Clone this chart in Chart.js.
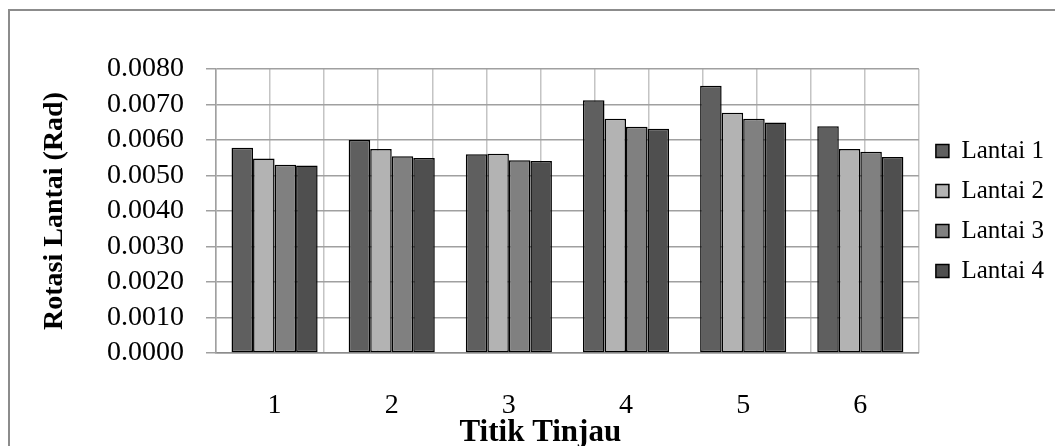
<!DOCTYPE html>
<html>
<head>
<meta charset="utf-8">
<script src="https://cdn.jsdelivr.net/npm/chart.js@4.4.1/dist/chart.umd.min.js"></script>
<style>
  html, body { margin: 0; padding: 0; background: #fff; overflow: hidden; }
  #frame { position: absolute; left: 8px; top: 9px; width: 1100px; height: 500px; border: 2px solid #8c8c8c; }
  #wrap { position: absolute; left: 0; top: 0; width: 1054px; height: 452px; }
</style>
</head>
<body>
<div id="frame"></div>
<div id="wrap"><canvas id="chart"></canvas></div>
<script>
// values (rad)
const titikTinjau = ["1", "2", "3", "4", "5", "6"];
const lantai1 = [0.00578, 0.00600, 0.00560, 0.00712, 0.00753, 0.00639];
const lantai2 = [0.00548, 0.00575, 0.00561, 0.00660, 0.00677, 0.00575];
const lantai3 = [0.00530, 0.00554, 0.00543, 0.00637, 0.00660, 0.00567];
const lantai4 = [0.00528, 0.00549, 0.00541, 0.00632, 0.00649, 0.00552];
const yMin = 0, yMax = 0.008, yStep = 0.001;

const serif = "'Liberation Serif', 'Times New Roman', serif";

function series(label, data, color) {
  return {
    label,
    data,
    backgroundColor: color,
    borderColor: "#000",
    borderWidth: 1.5,
    borderSkipped: false,
    categoryPercentage: 0.735,
    barPercentage: 1.0,
  };
}

new Chart(document.getElementById("chart"), {
  type: "bar",
  data: {
    labels: titikTinjau,
    datasets: [
      series("Lantai 1", lantai1, "#5f5f5f"),
      series("Lantai 2", lantai2, "#b3b3b3"),
      series("Lantai 3", lantai3, "#808080"),
      series("Lantai 4", lantai4, "#4f4f4f"),
    ],
  },
  options: {
    responsive: true,
    maintainAspectRatio: false,
    animation: false,
    layout: { padding: { left: 38, top: 69, right: 0, bottom: 0 } },
    plugins: {
      tooltip: { enabled: false },
      legend: {
        position: "right",
        fullSize: false,
        labels: {
          color: "#000",
          font: { family: serif, size: 25 },
          boxWidth: 13,
          boxHeight: 13,
          padding: 15,
        },
      },
    },
    scales: {
      x: {
        grid: { display: false },
        border: { display: true, color: "#8c8c8c", width: 1.5 },
        ticks: { color: "#000", font: { family: serif, size: 28 }, padding: 28 },
        title: {
          display: true,
          text: "Titik Tinjau       ",
          color: "#000",
          font: { family: serif, size: 31, weight: "bold" },
          padding: 0,
        },
        afterFit: (axis) => { axis.height = 99; },
      },
      // half-category vertical grid, as in the reference
      xg: {
        type: "linear",
        position: "bottom",
        min: 0,
        max: titikTinjau.length * 2,
        ticks: { display: false, stepSize: 1 },
        grid: { color: "#c4c4c4", lineWidth: 1.5, drawTicks: false },
        border: { display: false },
        afterFit: (axis) => { axis.height = 0; },
      },
      y: {
        min: yMin,
        max: yMax,
        ticks: {
          stepSize: yStep,
          autoSkip: false,
          color: "#000",
          font: { family: serif, size: 28 },
          padding: 22,
          callback: (v) => Number(v).toFixed(4),
        },
        grid: { color: "#a0a0a0", lineWidth: 1.5, tickLength: 10 },
        border: { display: true, color: "#a0a0a0", width: 1.5 },
        title: {
          display: true,
          text: "Rotasi Lantai (Rad)",
          color: "#000",
          font: { family: serif, size: 28, weight: "bold" },
          padding: 0,
        },
        afterFit: (axis) => { axis.width = 178; },
      },
      // small gap between plot and legend
      spacer: {
        type: "linear",
        position: "right",
        display: true,
        ticks: { display: false },
        grid: { display: false },
        border: { display: false },
        afterFit: (axis) => { axis.width = 2; },
      },
    },
  },
});
</script>
</body>
</html>
